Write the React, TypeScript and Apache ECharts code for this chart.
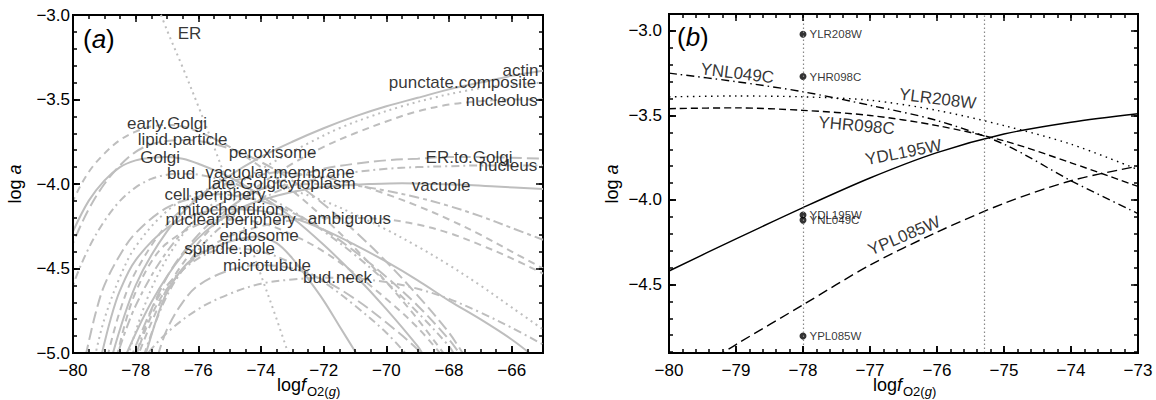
import React, { useEffect, useRef } from "react";
import * as echarts from "echarts";

const FONT = "'Liberation Sans', Arial, Helvetica, sans-serif";
const GRAY = "#bebebe";

// ---------- Panel (a) axes ----------
const aXMin = -80, aXMax = -65, aYMin = -5, aYMax = -3;
const aXMajor = [-80, -78, -76, -74, -72, -70, -68, -66];
const aYMajor = [-5, -4.5, -4, -3.5, -3];
// ---------- Panel (b) axes ----------
const bXMin = -80, bXMax = -73, bYMin = -4.905, bYMax = -2.9;
const bXMajor = [-80, -79, -78, -77, -76, -75, -74, -73];
const bYMajor = [-4.5, -4, -3.5, -3];

// ---------- Panel (a) curves (log fO2, log a) ----------
const actin = [[-78.8,-5.05],[-78,-4.6],[-77,-4.28],[-76,-4.08],[-75,-3.95],[-74,-3.84],[-73,-3.75],[-72,-3.67],[-71,-3.6],[-70,-3.54],[-69,-3.49],[-68,-3.44],[-67,-3.4],[-66,-3.36],[-65,-3.33]];
const punctateComposite = [[-78.3,-5.05],[-77.5,-4.62],[-76.5,-4.3],[-75.5,-4.11],[-74.5,-3.97],[-73.5,-3.86],[-72.5,-3.76],[-71.5,-3.67],[-70.5,-3.6],[-69.5,-3.54],[-68.5,-3.49],[-67.5,-3.45],[-66.5,-3.42],[-65,-3.4]];
const nucleolus = [[-78,-5.05],[-77,-4.62],[-76,-4.35],[-75,-4.15],[-74,-4.0],[-73,-3.88],[-72,-3.78],[-71,-3.7],[-70,-3.63],[-69,-3.57],[-68,-3.53],[-67,-3.51],[-66,-3.5],[-65,-3.5]];
const erToGolgi = [[-78.2,-5.05],[-77,-4.55],[-76,-4.3],[-75,-4.14],[-74,-4.03],[-73,-3.96],[-72,-3.91],[-71,-3.88],[-70,-3.86],[-69,-3.85],[-68,-3.84],[-67,-3.84],[-66,-3.845],[-65,-3.85]];
const nucleus = [[-77.8,-5.05],[-77,-4.66],[-76,-4.39],[-75,-4.21],[-74,-4.09],[-73,-4.01],[-72,-3.96],[-71,-3.93],[-70,-3.91],[-69,-3.9],[-68,-3.895],[-67,-3.89],[-66,-3.89],[-65,-3.89]];
const vacuole = [[-78.4,-5.05],[-77.5,-4.7],[-76.5,-4.42],[-75.5,-4.24],[-74.5,-4.13],[-73.5,-4.07],[-72.5,-4.03],[-71.5,-4.01],[-70.5,-4.0],[-69.5,-3.995],[-68.5,-4.0],[-67.5,-4.005],[-66.5,-4.015],[-65,-4.03]];
const er = [[-77.4,-2.9],[-77,-3.09],[-76.5,-3.31],[-76,-3.54],[-75.5,-3.78],[-75,-4.03],[-74.5,-4.28],[-74,-4.54],[-73.5,-4.8],[-73.1,-5.02]];
const earlyGolgi = [[-80.3,-4.25],[-80,-4.1],[-79.5,-3.93],[-79,-3.82],[-78.5,-3.74],[-78,-3.69],[-77.5,-3.66],[-77,-3.65],[-76.5,-3.66],[-76,-3.69],[-75,-3.78],[-74,-3.9],[-73,-4.04],[-72,-4.2],[-71,-4.38],[-70,-4.58],[-69,-4.8],[-68.1,-5.02]];
const lipidParticle = [[-80.3,-4.5],[-80,-4.35],[-79.5,-4.15],[-79,-4.0],[-78.5,-3.89],[-78,-3.81],[-77.5,-3.765],[-77,-3.745],[-76.5,-3.74],[-76,-3.745],[-75,-3.79],[-74,-3.87],[-73,-3.98],[-72,-4.12],[-71,-4.28],[-70,-4.46],[-69,-4.66],[-68,-4.88],[-67.5,-5.02]];
const golgi = [[-80.3,-4.42],[-80,-4.28],[-79.5,-4.1],[-79,-3.98],[-78.5,-3.9],[-78,-3.86],[-77.5,-3.845],[-77,-3.84],[-76.5,-3.85],[-76,-3.88],[-75,-3.96],[-74,-4.07],[-73,-4.2],[-72,-4.36],[-71,-4.54],[-70,-4.74],[-69,-4.96],[-68.8,-5.02]];
const bud = [[-80.3,-4.8],[-80,-4.6],[-79.5,-4.38],[-79,-4.22],[-78.5,-4.1],[-78,-4.02],[-77.5,-3.97],[-77,-3.945],[-76.5,-3.94],[-76,-3.945],[-75,-3.99],[-74,-4.06],[-73,-4.16],[-72,-4.28],[-71,-4.42],[-70,-4.58],[-69,-4.76],[-68,-4.96],[-67.8,-5.02]];
const vacuolarMembrane = [[-78.9,-5.02],[-78.5,-4.75],[-78,-4.52],[-77,-4.24],[-76,-4.08],[-75,-3.99],[-74,-3.945],[-73.4,-3.93],[-73,-3.935],[-72,-3.96],[-71,-4.0],[-70,-4.06],[-69,-4.13],[-68,-4.21],[-67,-4.3],[-66,-4.4],[-65,-4.5]];
const lateGolgi = [[-79.3,-5.02],[-79,-4.8],[-78.5,-4.55],[-78,-4.37],[-77,-4.16],[-76,-4.05],[-75,-4.005],[-74.5,-4.0],[-74,-4.01],[-73,-4.04],[-72,-4.1],[-71,-4.18],[-70,-4.27],[-69,-4.37],[-68,-4.48],[-67,-4.6],[-66,-4.73],[-65,-4.86]];
const cytoplasm = [[-78.6,-5.02],[-78,-4.72],[-77,-4.4],[-76,-4.2],[-75,-4.09],[-74,-4.03],[-73,-4.005],[-72.2,-4.0],[-71,-4.01],[-70,-4.04],[-69,-4.08],[-68,-4.13],[-67,-4.19],[-66,-4.26],[-65,-4.33]];
const cellPeriphery = [[-79.6,-5.02],[-79.3,-4.78],[-79,-4.6],[-78.5,-4.42],[-78,-4.29],[-77,-4.14],[-76,-4.075],[-75.5,-4.06],[-75,-4.065],[-74,-4.1],[-73,-4.17],[-72,-4.27],[-71,-4.4],[-70,-4.55],[-69,-4.72],[-68,-4.92],[-67.6,-5.02]];
const mitochondrion = [[-79.1,-5.02],[-78.8,-4.8],[-78.5,-4.63],[-78,-4.45],[-77,-4.26],[-76,-4.175],[-75,-4.15],[-74,-4.16],[-73,-4.2],[-72,-4.27],[-71,-4.36],[-70,-4.46],[-69,-4.57],[-68,-4.69],[-67,-4.8],[-66,-4.92],[-65.3,-5.02]];
const nuclearPeriphery = [[-78.6,-5.02],[-78.3,-4.8],[-78,-4.64],[-77.5,-4.46],[-77,-4.35],[-76,-4.24],[-75,-4.21],[-74,-4.23],[-73,-4.3],[-72,-4.4],[-71,-4.53],[-70,-4.68],[-69,-4.85],[-68.2,-5.02]];
const ambiguous = [[-78,-5.02],[-77.5,-4.78],[-77,-4.62],[-76,-4.42],[-75,-4.31],[-74,-4.25],[-73,-4.215],[-72,-4.2],[-71.2,-4.2],[-70,-4.21],[-69,-4.24],[-68,-4.29],[-67,-4.36],[-66,-4.44],[-65,-4.53]];
const endosome = [[-77.7,-5.02],[-77.3,-4.78],[-77,-4.64],[-76.5,-4.5],[-76,-4.42],[-75,-4.34],[-74.1,-4.31],[-73.5,-4.35],[-73,-4.44],[-72.5,-4.56],[-72,-4.69],[-71.5,-4.84],[-71,-4.99],[-70.9,-5.02]];
const spindlePole = [[-78,-5.02],[-77.5,-4.75],[-77,-4.6],[-76,-4.44],[-75,-4.38],[-74,-4.4],[-73,-4.47],[-72,-4.58],[-71,-4.72],[-70,-4.88],[-69.3,-5.02]];
const microtubule = [[-77.3,-5.02],[-77,-4.86],[-76.5,-4.7],[-76,-4.6],[-75,-4.51],[-74,-4.48],[-73,-4.5],[-72,-4.57],[-71,-4.68],[-70,-4.82],[-69,-4.98],[-68.9,-5.02]];
const budNeck = [[-77.7,-5.02],[-77,-4.88],[-76,-4.74],[-75,-4.65],[-74,-4.59],[-73,-4.565],[-72,-4.555],[-71,-4.56],[-70,-4.58],[-69,-4.62],[-68,-4.68],[-67,-4.76],[-66,-4.85],[-65,-4.95]];

const DASH: Record<string, any> = {
  solid: "solid",
  dashed: [7, 5],
  dotted: [2, 4],
  dotdash: [2, 4, 8, 4],
  longdash: [12, 5],
  twodash: [4, 4, 10, 4],
};

const curvesA = [
  { name: "actin", dash: "solid", pts: actin },
  { name: "punctate.composite", dash: "dotted", pts: punctateComposite },
  { name: "nucleolus", dash: "dashed", pts: nucleolus },
  { name: "ER.to.Golgi", dash: "longdash", pts: erToGolgi },
  { name: "nucleus", dash: "dotdash", pts: nucleus },
  { name: "vacuole", dash: "solid", pts: vacuole },
  { name: "ER", dash: "dotted", pts: er },
  { name: "early.Golgi", dash: "dashed", pts: earlyGolgi },
  { name: "lipid.particle", dash: "longdash", pts: lipidParticle },
  { name: "Golgi", dash: "solid", pts: golgi },
  { name: "bud", dash: "dotdash", pts: bud },
  { name: "vacuolar.membrane", dash: "dashed", pts: vacuolarMembrane },
  { name: "late.Golgi", dash: "dotted", pts: lateGolgi },
  { name: "cytoplasm", dash: "twodash", pts: cytoplasm },
  { name: "cell.periphery", dash: "longdash", pts: cellPeriphery },
  { name: "mitochondrion", dash: "solid", pts: mitochondrion },
  { name: "nuclear.periphery", dash: "dashed", pts: nuclearPeriphery },
  { name: "ambiguous", dash: "dashed", pts: ambiguous },
  { name: "endosome", dash: "solid", pts: endosome },
  { name: "spindle.pole", dash: "dotdash", pts: spindlePole },
  { name: "microtubule", dash: "longdash", pts: microtubule },
  { name: "bud.neck", dash: "dotdash", pts: budNeck },
];

// label anchors (curve maxima) for panel (a)
const labelNamesA = ["ER","early.Golgi","lipid.particle","Golgi","peroxisome","bud","vacuolar.membrane","late.Golgi","cytoplasm","cell.periphery","mitochondrion","nuclear.periphery","ambiguous","endosome","spindle.pole","microtubule","bud.neck","actin","punctate.composite","nucleolus","ER.to.Golgi","nucleus","vacuole"];
const labelXA = [-76.28,-77.0,-76.5,-77.22,-73.63,-76.55,-73.39,-74.55,-72.2,-75.47,-74.96,-74.97,-71.18,-74.06,-75.0,-73.81,-71.56,-65.72,-67.57,-66.32,-67.36,-66.12,-68.25];
const labelYA = [-3.107,-3.641,-3.736,-3.843,-3.813,-3.938,-3.932,-3.997,-3.997,-4.062,-4.151,-4.211,-4.205,-4.306,-4.383,-4.484,-4.555,-3.326,-3.398,-3.504,-3.843,-3.89,-4.009];

// ---------- Panel (b) ----------
const bX = [-80, -79, -78, -77, -76, -75, -74, -73];
const yYDL195W = [-4.42, -4.23, -4.045, -3.87, -3.72, -3.61, -3.54, -3.49];
const yYHR098C = [-3.46, -3.455, -3.47, -3.5, -3.56, -3.65, -3.78, -3.92];
const yYNL049C = [-3.25, -3.3, -3.36, -3.44, -3.53, -3.67, -3.886, -4.08];
const yYLR208W = [-3.39, -3.385, -3.39, -3.41, -3.47, -3.56, -3.67, -3.82];
const xYPL085W = [-79.3, -79, -78, -77, -76, -75, -74, -73];
const yYPL085W = [-4.93, -4.855, -4.62, -4.385, -4.19, -4.02, -3.886, -3.8];

const pointNames = ["YLR208W", "YHR098C", "YDL195W", "YNL049C", "YPL085W"];
const pointX = -78;
const pointY = [-3.02, -3.27, -4.089, -4.119, -4.805];

const vLinesB = [-78, -75.3];

const lineLabelNamesB = ["YNL049C", "YHR098C", "YLR208W", "YDL195W", "YPL085W"];
const lineLabelXB = [-78.98, -77.2, -75.99, -76.5, -76.49];
const lineLabelYB = [-3.251, -3.56, -3.402, -3.719, -4.212];
const lineLabelRotB = [-7, -5, -7, 11, 23];

// grid boxes in pixels
const GRID_A = { left: 73, top: 15, width: 470, height: 338 };
const GRID_B = { left: 669, top: 14, width: 469, height: 339 };

const steps = (min: number, max: number, step: number) => {
  const out: number[] = [];
  const n = Math.round((max - min) / step);
  for (let i = 0; i <= n; i++) out.push(+(min + i * step).toFixed(4));
  return out;
};

const fmt = (d: number) => (v: number) => Number(v).toFixed(d).replace("-", "\u2212");

const MAJ = 7, MIN = 4;

// tick marks as markLine segments (coords on the library's axes); lengths converted from px to data units
function tickSegments(xMin: number, xMax: number, yMin: number, yMax: number, w: number, h: number,
  xMajor: number[], xMinor: number[], yMajor: number[], yMinor: number[]) {
  const dy = (len: number) => (len * (yMax - yMin)) / h;
  const dx = (len: number) => (len * (xMax - xMin)) / w;
  const segs: any[] = [];
  const xt = (v: number, len: number) => {
    segs.push([{ coord: [v, yMin] }, { coord: [v, yMin + dy(len)] }]);
    segs.push([{ coord: [v, yMax] }, { coord: [v, yMax - dy(len)] }]);
  };
  const yt = (v: number, len: number) => {
    segs.push([{ coord: [xMin, v] }, { coord: [xMin + dx(len), v] }]);
    segs.push([{ coord: [xMax, v] }, { coord: [xMax - dx(len), v] }]);
  };
  xMinor.forEach((v) => xt(v, MIN));
  xMajor.forEach((v) => xt(v, MAJ));
  yMinor.forEach((v) => yt(v, MIN));
  yMajor.forEach((v) => yt(v, MAJ));
  return segs;
}

function mainAxis(grid: number, min: number, max: number, pos: string, ticks: number[], labels: number[], margin: number, dec: number) {
  return {
    type: "value",
    gridIndex: grid,
    min,
    max,
    position: pos,
    z: 10,
    axisLine: { show: true, onZero: false, lineStyle: { color: "#000", width: 2 } },
    splitLine: { show: false },
    axisTick: { show: true, inside: true, length: MAJ, customValues: ticks, lineStyle: { color: "#000", width: 1.5 } },
    axisLabel: { show: true, customValues: labels, formatter: fmt(dec), margin, fontSize: 17, color: "#000", fontFamily: FONT },
  };
}

export default function App() {
  const ref = useRef<HTMLDivElement>(null);
  useEffect(() => {
    if (!ref.current) return;
    const chart = echarts.init(ref.current, null, { renderer: "svg" });

    const seriesA: any[] = curvesA.map((c) => ({
      type: "line",
      name: c.name,
      xAxisIndex: 0,
      yAxisIndex: 0,
      data: c.pts,
      showSymbol: false,
      symbol: "none",
      smooth: 0.35,
      clip: true,
      silent: true,
      z: 2,
      lineStyle: { color: GRAY, width: 2, type: DASH[c.dash] },
    }));

    const labelSeriesA = {
      type: "scatter",
      xAxisIndex: 0,
      yAxisIndex: 0,
      symbolSize: 1,
      itemStyle: { color: "transparent" },
      silent: true,
      z: 5,
      data: labelNamesA.map((n, i) => ({ name: n, value: [labelXA[i], labelYA[i]] })),
      label: { show: true, position: "inside", formatter: "{b}", fontSize: 17, color: "#000", fontFamily: FONT },
    };

    const tickHost = (xi: number, yi: number, segs: any[]) => ({
      type: "line",
      xAxisIndex: xi,
      yAxisIndex: yi,
      data: [],
      silent: true,
      clip: false,
      z: 12,
      markLine: {
        symbol: ["none", "none"],
        silent: true,
        animation: false,
        label: { show: false },
        emphasis: { disabled: true },
        lineStyle: { color: "#000", width: 1.5, type: "solid", opacity: 1 },
        data: segs,
      },
    });

    const bLine = (name: string, xs: number[], ys: number[], type: any) => ({
      type: "line",
      name,
      xAxisIndex: 1,
      yAxisIndex: 1,
      data: xs.map((x, i) => [x, ys[i]]),
      showSymbol: false,
      symbol: "none",
      smooth: 0.3,
      clip: true,
      silent: true,
      z: 3,
      lineStyle: { color: "#000", width: 1.4, type },
    });

    const seriesB: any[] = [
      {
        type: "line",
        xAxisIndex: 1,
        yAxisIndex: 1,
        data: [],
        silent: true,
        z: 1,
        markLine: {
          symbol: ["none", "none"],
          silent: true,
          label: { show: false },
          lineStyle: { color: "#888", width: 1.2, type: [1.5, 2.5] },
          data: vLinesB.map((v) => ({ xAxis: v })),
        },
      },
      bLine("YDL195W", bX, yYDL195W, "solid"),
      bLine("YHR098C", bX, yYHR098C, [7, 4]),
      bLine("YNL049C", bX, yYNL049C, [8, 4, 1.5, 4]),
      bLine("YLR208W", bX, yYLR208W, [1.5, 4.5]),
      bLine("YPL085W", xYPL085W, yYPL085W, [10, 5]),
      {
        type: "scatter",
        xAxisIndex: 1,
        yAxisIndex: 1,
        symbol: "circle",
        symbolSize: 7,
        itemStyle: { color: "#000" },
        silent: true,
        z: 4,
        data: pointNames.map((n, i) => ({ name: n, value: [pointX, pointY[i]] })),
        label: { show: true, position: "right", distance: 3, formatter: "{b}", fontSize: 11.5, color: "#000", fontFamily: FONT },
      },
      {
        type: "scatter",
        xAxisIndex: 1,
        yAxisIndex: 1,
        symbolSize: 1,
        itemStyle: { color: "transparent" },
        silent: true,
        z: 5,
        data: lineLabelNamesB.map((n, i) => ({
          name: n,
          value: [lineLabelXB[i], lineLabelYB[i]],
          label: { rotate: lineLabelRotB[i] },
        })),
        label: { show: true, position: "inside", formatter: "{b}", fontSize: 17, color: "#000", fontFamily: FONT },
      },
    ];

    const segsA = tickSegments(aXMin, aXMax, aYMin, aYMax, GRID_A.width, GRID_A.height,
      aXMajor, steps(aXMin, aXMax, 0.5), aYMajor, steps(aYMin, aYMax, 0.1));
    const segsB = tickSegments(bXMin, bXMax, bYMin, bYMax, GRID_B.width, GRID_B.height,
      bXMajor, steps(bXMin, bXMax, 0.2), bYMajor, steps(-4.9, -2.9, 0.1));

    const txt = (x: number, y: number, text: string, size: number, rich: any = {}, rotation = 0, align = "center") => ({
      type: "text",
      x,
      y,
      rotation,
      silent: true,
      style: {
        text,
        fontSize: size,
        fontFamily: FONT,
        fill: "#000",
        align,
        verticalAlign: "middle",
        textAlign: align,
        textVerticalAlign: "middle",
        rich,
      },
    });
    const ital = (s: number) => ({ i: { fontStyle: "italic", fontSize: s, fontFamily: FONT, fill: "#000" } });

    const option: any = {
      animation: false,
      grid: [
        { ...GRID_A, show: true, borderColor: "#000", borderWidth: 2, backgroundColor: "transparent" },
        { ...GRID_B, show: true, borderColor: "#000", borderWidth: 2, backgroundColor: "transparent" },
      ],
      xAxis: [
        mainAxis(0, aXMin, aXMax, "bottom", aXMajor, aXMajor, 9, 0),
        mainAxis(1, bXMin, bXMax, "bottom", bXMajor, bXMajor, 9, 0),
      ],
      yAxis: [
        mainAxis(0, aYMin, aYMax, "left", aYMajor, aYMajor, 3, 1),
        mainAxis(1, bYMin, bYMax, "left", bYMajor, bYMajor, 7, 1),
      ],
      series: [...seriesA, labelSeriesA, ...seriesB, tickHost(0, 0, segsA), tickHost(1, 1, segsB)],
      graphic: [
        txt(83, 39, "({i|a})", 26, ital(26), 0, "left"),
        txt(677, 37, "({i|b})", 26, ital(26), 0, "left"),
        txt(15, 184, "log {i|a}", 18, ital(18), Math.PI / 2),
        txt(612, 184, "log {i|a}", 18, ital(18), Math.PI / 2),
        txt(277, 385, "log{i|f}", 18, ital(18), 0, "left"),
        txt(307, 391, "O2({i|g})", 13, ital(13), 0, "left"),
        txt(873, 385, "log{i|f}", 18, ital(18), 0, "left"),
        txt(903, 391, "O2({i|g})", 13, ital(13), 0, "left"),
      ],
    };

    chart.setOption(option);
    return () => chart.dispose();
  }, []);

  return <div ref={ref} style={{ position: "absolute", left: 0, top: 0, width: 1156, height: 400 }} />;
}
